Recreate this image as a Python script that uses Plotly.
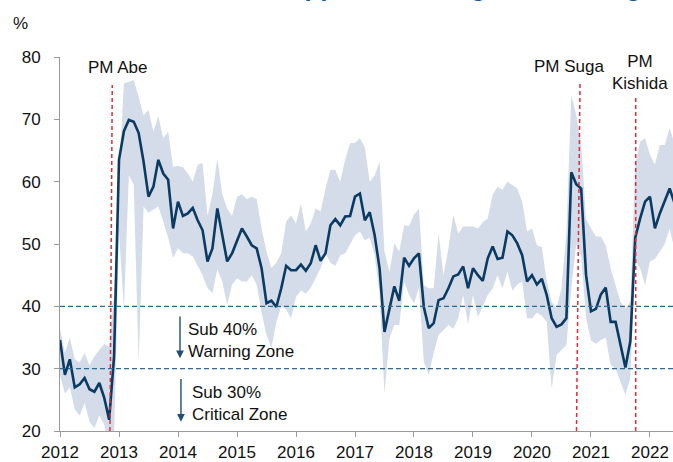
import plotly.graph_objects as go

# Monthly observations, Jan 2012 onwards
start_year = 2012
approval = [34.6, 29.0, 31.5, 27.0, 27.5, 28.5, 26.7, 26.3, 27.7, 25.3, 21.8, 32.0,
            63.5, 68.1, 69.9, 69.6, 67.8, 63.2, 57.6, 59.2, 63.5, 61.3, 60.3, 52.5,
            56.8, 54.5, 54.9, 55.8, 53.8, 52.2, 47.2, 49.3, 55.7, 51.4, 47.2, 48.5,
            50.4, 52.5, 51.2, 49.8, 49.3, 46.1, 40.5, 40.9, 39.9, 42.9, 46.5, 45.8,
            45.8, 46.7, 45.7, 46.9, 49.8, 47.3, 48.5, 53.0, 54.0, 53.0, 54.4, 54.5,
            57.6, 58.1, 53.8, 55.1, 51.4, 46.1, 35.9, 39.7, 43.2, 40.9, 47.8, 46.5,
            47.7, 48.5, 39.9, 36.5, 37.3, 41.0, 41.3, 42.9, 44.8, 45.1, 46.4, 42.9,
            46.1, 45.0, 44.1, 47.7, 49.6, 47.6, 47.8, 52.0, 51.4, 50.1, 48.2, 44.0,
            45.0, 43.5, 44.4, 41.8, 38.1, 36.7, 37.1, 38.1, 61.5, 59.6, 58.9, 45.0,
            39.2, 39.6, 41.9, 43.0, 37.5, 37.5, 33.8, 30.2, 34.4, 51.0, 54.1, 56.8,
            57.6, 52.5, 54.9, 56.8, 58.9, 56.5]

range_high = [36.5, 32.5, 35.0, 31.5, 31.0, 32.5, 30.5, 32.0, 33.0, 34.0, 33.5, 42.0,
              61.0, 75.8, 76.0, 76.3, 73.6, 70.6, 71.5, 68.0, 70.5, 67.0, 68.0, 62.4,
              62.5, 62.3, 61.3, 60.0, 62.7, 63.0, 54.5, 58.0, 63.7, 58.0, 55.7, 54.5,
              57.6, 58.0, 57.2, 57.6, 57.2, 52.5, 48.8, 46.1, 47.0, 48.5, 53.6, 54.6,
              53.3, 56.5, 52.0, 53.3, 55.7, 55.2, 58.9, 61.9, 61.9, 60.0, 63.5, 66.2,
              66.2, 67.0, 65.5, 60.0, 61.0, 63.2, 48.8, 45.5, 50.1, 48.8, 53.0, 52.9,
              54.7, 55.7, 43.4, 42.9, 42.9, 51.7, 45.0, 49.3, 54.7, 51.7, 52.8, 52.8,
              52.8, 52.5, 53.5, 54.1, 57.9, 59.2, 58.7, 60.0, 59.5, 58.9, 56.8, 52.0,
              52.5, 49.8, 49.5, 44.0, 40.7, 39.7, 42.9, 52.0, 73.9, 70.7, 66.0, 54.0,
              52.5, 51.2, 51.2, 49.8, 46.1, 43.4, 40.7, 39.7, 40.7, 62.7, 66.4, 67.0,
              64.3, 62.7, 65.9, 65.9, 68.6, 66.0]

range_low = [29.0, 26.0, 27.0, 23.5, 22.5, 24.5, 21.5, 20.5, 22.5, 21.0, 17.0, 19.0,
             52.0, 39.5, 61.0, 59.5, 31.0, 56.0, 55.0, 55.5, 56.0, 53.6, 51.0, 47.8,
             49.3, 48.5, 48.5, 48.0, 46.5, 45.0, 42.9, 42.1, 46.0, 44.0, 40.2, 43.5,
             44.5, 44.0, 44.0, 45.0, 43.5, 39.0, 35.4, 33.3, 37.5, 40.0, 39.5, 38.1,
             41.5, 42.6, 42.0, 43.0, 44.5, 46.1, 48.5, 47.0, 46.5, 48.2, 48.5, 50.0,
             51.4, 52.0, 50.6, 51.0, 48.2, 42.0, 26.0, 34.9, 37.0, 37.0, 44.0, 41.8,
             40.5, 43.0, 31.1, 29.0, 32.5, 35.4, 36.2, 37.0, 36.4, 38.1, 41.8, 37.1,
             41.8, 38.3, 40.0, 41.8, 42.9, 45.0, 42.9, 45.6, 42.5, 43.5, 44.0, 38.1,
             38.1, 39.0, 38.5, 37.5, 26.8, 32.2, 33.0, 33.8, 43.0, 50.0, 48.0, 38.1,
             34.5, 34.0, 34.6, 35.0, 30.6, 30.0, 27.9, 25.8, 28.5, 47.2, 46.1, 43.4,
             47.2, 47.6, 48.8, 50.0, 52.5, 49.0]

year_ticks = [2012, 2013, 2014, 2015, 2016, 2017, 2018, 2019, 2020, 2021, 2022]
year_labels = [str(y) for y in year_ticks]
y_ticks = [20, 30, 40, 50, 60, 70, 80]

pm_names = ["PM Abe", "PM Suga", "PM<br>Kishida"]
pm_line_top = [2012.886, 2020.814, 2021.758]
pm_line_bottom = [2012.847, 2020.754, 2021.758]
pm_line_ytop = [75.5, 75.8, 73.9]
pm_label_x = [2012.983, 2020.627, 2021.83]
pm_label_y = [78.28, 78.44, 77.5]

zone_levels = [40, 30]

dates = [start_year + i / 12 for i in range(len(approval))]

FONT = "Arial, Liberation Sans, sans-serif"
NAVY = "#0b3a63"
BAND = "#d3dce8"
ZONE = "#2d6a92"
RED = "#de2d35"

fig = go.Figure()
fig.add_trace(go.Scatter(x=dates, y=range_low, mode="lines", line=dict(width=0, color=BAND),
                         hoverinfo="skip", showlegend=False))
fig.add_trace(go.Scatter(x=dates, y=range_high, mode="lines", line=dict(width=0, color=BAND),
                         fill="tonexty", fillcolor=BAND, hoverinfo="skip", showlegend=False))
fig.add_trace(go.Scatter(x=dates, y=approval, mode="lines",
                         line=dict(color=NAVY, width=2.6), showlegend=False))

for lvl in zone_levels:
    fig.add_shape(type="line", xref="paper", x0=0, x1=1, yref="y", y0=lvl, y1=lvl,
                  line=dict(color=ZONE, width=1.3, dash="5px,3px"), layer="above")

for xt, xb, yt in zip(pm_line_top, pm_line_bottom, pm_line_ytop):
    fig.add_shape(type="line", xref="x", x0=xb, x1=xt, yref="y", y0=20, y1=yt,
                  line=dict(color=RED, width=1.5, dash="4px,3px"), layer="above")

for name, lx, ly in zip(pm_names, pm_label_x, pm_label_y):
    fig.add_annotation(x=lx, y=ly, xref="x", yref="y", text=name, showarrow=False,
                       font=dict(family=FONT, size=17, color="#111"), align="center")

fig.add_annotation(x=2014.136, y=34.52, xref="x", yref="y", text="Sub 40%<br>Warning Zone",
                   showarrow=False, xanchor="left", align="left",
                   font=dict(family=FONT, size=17, color="#111"))
fig.add_annotation(x=2014.203, y=24.36, xref="x", yref="y", text="Sub 30%<br>Critical Zone",
                   showarrow=False, xanchor="left", align="left",
                   font=dict(family=FONT, size=17, color="#111"))

for ax_, ay0, ay1 in [(2014.034, 38.6, 31.66), (2014.05, 28.6, 21.5)]:
    fig.add_annotation(x=ax_, y=ay1, ax=ax_, ay=ay0, xref="x", yref="y", axref="x", ayref="y",
                       text="", showarrow=True, arrowhead=2, arrowsize=1.1, arrowwidth=1.4,
                       arrowcolor="#1f4e79")

fig.add_annotation(x=-0.08, y=1.121, xref="paper", yref="paper", text="%", showarrow=False,
                   font=dict(family=FONT, size=17, color="#111"))

fig.add_annotation(x=0.199, y=1.187, xref="paper", yref="paper", xanchor="left", yanchor="middle",
                   text="<b>Cabinet Approval Ratings Are Strong</b>", showarrow=False,
                   font=dict(family=FONT, size=26, color="#1a5a96"))

fig.update_layout(
    width=673, height=462,
    margin=dict(l=60, r=0, t=57, b=31, autoexpand=False),
    plot_bgcolor="white", paper_bgcolor="white",
    showlegend=False,
    font=dict(family=FONT, size=17, color="#111"),
    xaxis=dict(range=[2012, 2022.39], tickvals=year_ticks, ticktext=year_labels,
               showgrid=False, zeroline=False, showline=True, linecolor="#9a9a9a", linewidth=1,
               ticks="outside", ticklen=5, tickcolor="#9a9a9a", ticklabelstandoff=1,
               automargin=False,
               tickfont=dict(family=FONT, size=17, color="#111")),
    yaxis=dict(range=[20, 80], tickvals=y_ticks, showgrid=False, zeroline=False,
               showline=True, linecolor="#9a9a9a", linewidth=1,
               ticks="outside", ticklen=5, tickcolor="#9a9a9a", ticklabelstandoff=10,
               automargin=False,
               tickfont=dict(family=FONT, size=17, color="#111")),
)

fig.write_html("out.html", config={"displayModeBar": False},
               post_script="document.body.style.margin='0';document.body.style.overflow='hidden';")
